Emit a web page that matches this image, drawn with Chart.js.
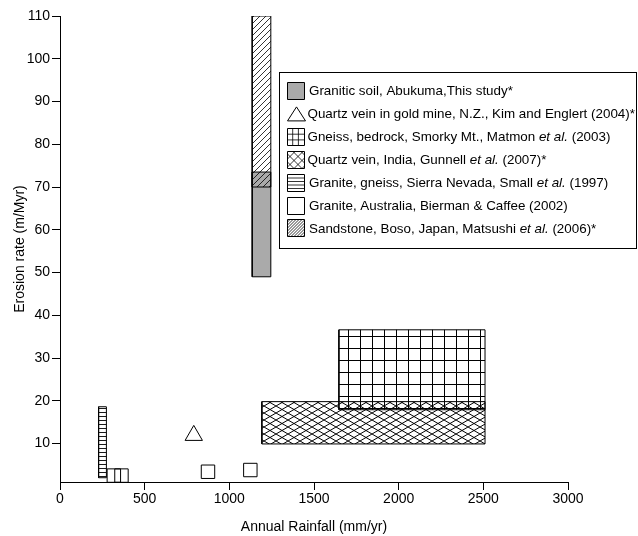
<!DOCTYPE html>
<html>
<head>
  <title>Erosion rate vs annual rainfall</title>
  <script src="https://cdn.jsdelivr.net/npm/chart.js@4.4.0/dist/chart.umd.min.js"></script>
  <style>
    body { margin: 0; background: #fff; }
  </style>
</head>
<body>
  <canvas id="erosionChart" width="638" height="536"></canvas>

  <script>
    // ---- data ----
    // rectangles (ranges): Abukuma, Boso, Smoky Mt., India, Sierra Nevada
    var rectNames = ['Granitic soil', 'Sandstone', 'Gneiss', 'Quartz vein India', 'Granite gneiss'];
    var rectX0 = [1135, 1135, 1647, 1192, 228];
    var rectX1 = [1245, 1245, 2510, 2510, 274];
    var rectY0 = [49, 70, 17.9, 9.9, 2.0];
    var rectY1 = [73.5, 110, 36.6, 19.8, 18.6];

    // single points
    var nzRain = [790];
    var nzErosion = [11.9];
    var ausRain = [318, 363, 874, 1124];
    var ausErosion = [2.5, 2.5, 3.4, 3.8];

    var xTicks = [0, 500, 1000, 1500, 2000, 2500, 3000];
    var yTicks = [10, 20, 30, 40, 50, 60, 70, 80, 90, 100, 110];

    // legend text, _..._ = italic
    var legendLabels = [
      'Granitic soil, Abukuma,This study*',
      'Quartz vein in gold mine, N.Z., Kim and Englert (2004)*',
      'Gneiss, bedrock, Smorky Mt., Matmon _et al._ (2003)',
      'Quartz vein, India, Gunnell _et al._ (2007)*',
      'Granite, gneiss, Sierra Nevada, Small _et al._ (1997)',
      'Granite, Australia, Bierman & Caffee (2002)',
      'Sandstone, Boso, Japan, Matsushi _et al._ (2006)*'
    ];
    var legendKinds = ['gray', 'triangle', 'grid', 'cross', 'hlines', 'box', 'diag'];

    var FONT = "'Liberation Sans', Arial, Helvetica, sans-serif";

    var canvas = document.getElementById('erosionChart');
    var ctx = canvas.getContext('2d');

    function makePattern(w, h, lw, draw) {
      var c = document.createElement('canvas');
      c.width = w; c.height = h;
      var g = c.getContext('2d');
      g.strokeStyle = '#000';
      g.lineWidth = lw;
      g.beginPath();
      draw(g, w, h);
      g.stroke();
      return ctx.createPattern(c, 'repeat');
    }

    var patDiag = makePattern(6, 6, 0.8, function(g, w, h) {
      g.moveTo(-1, h + 1); g.lineTo(w + 1, -1);
      g.moveTo(-1, 1); g.lineTo(1, -1);
      g.moveTo(w - 1, h + 1); g.lineTo(w + 1, h - 1);
    });
    var patCross = makePattern(12, 7, 1, function(g, w, h) {
      g.moveTo(0, 0); g.lineTo(w, h);
      g.moveTo(0, h); g.lineTo(w, 0);
    });
    var patGrid = makePattern(12, 12, 1, function(g, w, h) {
      g.moveTo(0, 0.5); g.lineTo(w, 0.5);
      g.moveTo(0.5, 0); g.lineTo(0.5, h);
    });
    var patLines = makePattern(4, 4, 0.9, function(g, w, h) {
      g.moveTo(0, 0.5); g.lineTo(w, 0.5);
    });

    var rectFills = ['#aaaaaa', patDiag, patGrid, patCross, patLines];
    var rectOrder = [2, 1, 3, 4, 5];

    function rectPoints(i) {
      return [
        { x: rectX0[i], y: rectY0[i] },
        { x: rectX1[i], y: rectY0[i] },
        { x: rectX1[i], y: rectY1[i] },
        { x: rectX0[i], y: rectY1[i] },
        { x: rectX0[i], y: rectY0[i] }
      ];
    }

    var datasets = rectNames.map(function(name, i) {
      return {
        label: name,
        data: rectPoints(i),
        showLine: true,
        fill: 'shape',
        backgroundColor: rectFills[i],
        borderColor: '#000',
        borderWidth: 1,
        pointRadius: 0,
        order: rectOrder[i]
      };
    });

    datasets.push({
      label: 'Quartz vein N.Z.',
      data: nzRain.map(function(x, i) { return { x: x, y: nzErosion[i] }; }),
      pointStyle: 'triangle',
      pointRadius: 10,
      backgroundColor: 'rgba(0,0,0,0)',
      borderColor: '#000',
      borderWidth: 1,
      order: 0
    });
    datasets.push({
      label: 'Granite Australia',
      data: ausRain.map(function(x, i) { return { x: x, y: ausErosion[i] }; }),
      pointStyle: 'rect',
      pointRadius: 9.5,
      backgroundColor: 'rgba(0,0,0,0)',
      borderColor: '#000',
      borderWidth: 1,
      order: 0
    });

    // legend box drawn inside the plot
    var boxLegend = {
      id: 'boxLegend',
      afterDraw: function(chart) {
        var c = chart.ctx;
        var bx = 279.5, by = 72.5, bw = 357, bh = 176;
        var sx = 287, sw = 18, tx = 309, row0 = 91, step = 22.9;
        c.save();
        c.fillStyle = '#fff';
        c.fillRect(bx, by, bw, bh);
        c.strokeStyle = '#000';
        c.lineWidth = 1;
        c.strokeRect(bx, by, bw, bh);

        legendLabels.forEach(function(label, i) {
          var cy = row0 + i * step;
          var top = Math.round(cy - sw / 2) + 0.5;
          var kind = legendKinds[i];
          c.save();
          c.lineWidth = 1;
          c.strokeStyle = '#000';
          if (kind === 'triangle') {
            c.beginPath();
            c.moveTo(sx + 9.5, cy - 7);
            c.lineTo(sx + 18.5, cy + 7);
            c.lineTo(sx + 0.5, cy + 7);
            c.closePath();
            c.stroke();
          } else {
            c.beginPath();
            c.rect(sx + 0.5, top, sw - 1, sw - 1);
            if (kind === 'gray') { c.fillStyle = '#aaaaaa'; c.fill(); }
            c.stroke();
            c.clip();
            c.beginPath();
            c.lineWidth = 0.8;
            var k;
            if (kind === 'grid') {
              for (k = 1; k < 3; k++) {
                c.moveTo(sx + k * 5.7, top); c.lineTo(sx + k * 5.7, top + sw);
                c.moveTo(sx, top + k * 5.7); c.lineTo(sx + sw, top + k * 5.7);
              }
            } else if (kind === 'cross') {
              for (k = -sw; k < sw * 2; k += 8) {
                c.moveTo(sx + k, top); c.lineTo(sx + k + sw, top + sw);
                c.moveTo(sx + k, top + sw); c.lineTo(sx + k + sw, top);
              }
            } else if (kind === 'hlines') {
              for (k = 3.5; k < sw; k += 3.5) {
                c.moveTo(sx, top + k); c.lineTo(sx + sw, top + k);
              }
            } else if (kind === 'diag') {
              for (k = -sw; k < sw * 2; k += 3) {
                c.moveTo(sx + k, top + sw); c.lineTo(sx + k + sw, top);
              }
            }
            c.stroke();
          }
          c.restore();

          // text with italic parts
          var x = kind === 'triangle' || kind === 'grid' || kind === 'cross' ? tx - 1.5 : tx;
          c.fillStyle = '#000';
          c.textBaseline = 'middle';
          label.split('_').forEach(function(part, j) {
            c.font = (j % 2 ? 'italic ' : '') + '13.4px ' + FONT;
            c.fillText(part, x, cy + 0.5);
            x += c.measureText(part).width;
          });
        });
        c.restore();
      }
    };

    var tickFont = { family: FONT, size: 14 };

    var chart = new Chart(ctx, {
      type: 'scatter',
      data: { datasets: datasets },
      plugins: [boxLegend],
      options: {
        responsive: false,
        animation: false,
        events: [],
        layout: { padding: { top: 16, right: 70, bottom: 0, left: 0 } },
        plugins: {
          legend: { display: false },
          tooltip: { enabled: false }
        },
        scales: {
          x: {
            type: 'linear',
            min: 0,
            max: 3000,
            afterBuildTicks: function(s) { s.ticks = xTicks.map(function(v) { return { value: v }; }); },
            afterFit: function(s) { s.height = 54; },
            grid: { drawOnChartArea: false, drawTicks: true, tickLength: 8, color: '#000', tickColor: '#000' },
            border: { display: true, color: '#000', width: 1 },
            ticks: {
              color: '#000', font: tickFont, padding: 1, maxRotation: 0,
              callback: function(v) { return String(v); }
            },
            title: { display: true, text: 'Annual Rainfall (mm/yr)', color: '#000', font: tickFont, padding: 0 }
          },
          y: {
            type: 'linear',
            min: 1,
            max: 110,
            afterBuildTicks: function(s) { s.ticks = yTicks.map(function(v) { return { value: v }; }); },
            afterFit: function(s) { s.width = 60; },
            grid: { drawOnChartArea: false, drawTicks: true, tickLength: 8, color: '#000', tickColor: '#000' },
            border: { display: true, color: '#000', width: 1 },
            ticks: {
              color: '#000', font: tickFont, padding: 2,
              callback: function(v) { return String(v); }
            },
            title: { display: true, text: 'Erosion rate (m/Myr)', color: '#000', font: tickFont, padding: { top: 12, bottom: 0 } }
          }
        }
      }
    });
  </script>
</body>
</html>
